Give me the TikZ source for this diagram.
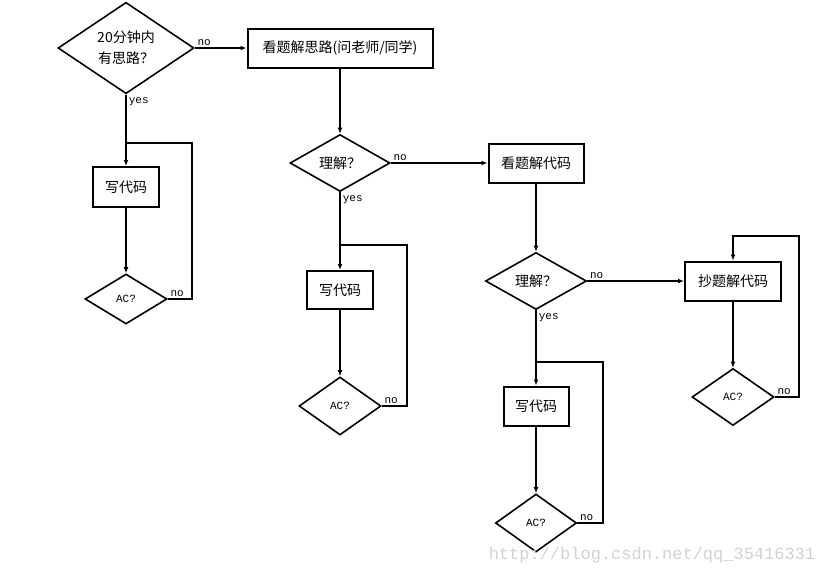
\documentclass[tikz,border=0pt]{standalone}
\usepackage{fontspec}
\setmainfont{Liberation Mono}
\newfontfamily\cjk{Noto Sans CJK SC}
\newfontfamily\labfont{Liberation Mono}
\usetikzlibrary{shapes.geometric,arrows.meta}

\begin{document}
\begin{tikzpicture}[x=1pt,y=-1pt,
  box/.style={draw,line width=2pt,inner sep=0pt,font=\cjk\fontsize{14}{16}\selectfont},
  test/.style={draw,diamond,aspect=1,line width=1.6pt,inner sep=0pt,font=\cjk\fontsize{14}{21}\selectfont},
  ac/.style={test,font=\labfont\fontsize{11}{12}\selectfont},
  arr/.style={line width=1.6pt,-{Latex[length=6pt,width=5pt]}},
  lnk/.style={line width=1.6pt},
  lab/.style={font=\labfont\fontsize{11}{12}\selectfont,inner sep=2pt}]
\fill[white] (0,0) rectangle (825,576);
\useasboundingbox (0,0) rectangle (825,576);

% first column
\node[test,minimum width=136,minimum height=84,align=center] (q1) at (126,48) {20分钟内\\有思路？};
\node[box,minimum width=185,minimum height=39] (s1) at (340,48) {看题解思路(问老师/同学)};
\node[box,minimum width=66,minimum height=40] (w1) at (126,187) {写代码};
\node[ac,minimum width=82,minimum height=50] (a1) at (126,299) {AC?};
\coordinate (t1) at (192,143);
\draw[arr] (q1.east) node[lab,above right] {no} -- (s1.west);
\draw[arr] (q1.south) node[lab,below right] {yes} -- (w1.north);
\draw[arr] (w1.south) -- (a1.north);
\draw[lnk] (a1.east) node[lab,above right] {no} -| (t1) -- (t1 -| w1);

% second column
\node[test,minimum width=100,minimum height=57] (q2) at (340,163) {理解？};
\node[box,minimum width=95,minimum height=39] (s2) at (536,163) {看题解代码};
\node[box,minimum width=66,minimum height=38] (w2) at (340,290) {写代码};
\node[ac,minimum width=82,minimum height=58] (a2) at (340,406) {AC?};
\coordinate (t2) at (407,245);
\draw[arr] (s1.south) -- (q2.north);
\draw[arr] (q2.east) node[lab,above right] {no} -- (s2.west);
\draw[arr] (q2.south) node[lab,below right] {yes} -- (w2.north);
\draw[arr] (w2.south) -- (a2.north);
\draw[lnk] (a2.east) node[lab,above right] {no} -| (t2) -- (t2 -| w2);

% third column
\node[test,minimum width=101,minimum height=57] (q3) at (536,281) {理解？};
\node[box,minimum width=96,minimum height=39] (s3) at (733,281) {抄题解代码};
\node[box,minimum width=65,minimum height=39] (w3) at (536,406) {写代码};
\node[ac,minimum width=81,minimum height=58] (a3) at (536,523) {AC?};
\coordinate (t3) at (603,362);
\draw[arr] (s2.south) -- (q3.north);
\draw[arr] (q3.east) node[lab,above right] {no} -- (s3.west);
\draw[arr] (q3.south) node[lab,below right] {yes} -- (w3.north);
\draw[arr] (w3.south) -- (a3.north);
\draw[lnk] (a3.east) node[lab,above right] {no} -| (t3) -- (t3 -| w3);

% fourth column
\node[ac,minimum width=82,minimum height=57] (a4) at (733,397) {AC?};
\coordinate (t4) at (799,236);
\draw[arr] (s3.south) -- (a4.north);
\draw[arr] (a4.east) node[lab,above right] {no} -| (t4) -- (t4 -| s3) -- (s3.north);

\node[font=\labfont\fontsize{17}{17}\selectfont,text=gray!35] (mark) at (652,555) {http://blog.csdn.net/qq\_35416331};
\end{tikzpicture}
\end{document}
